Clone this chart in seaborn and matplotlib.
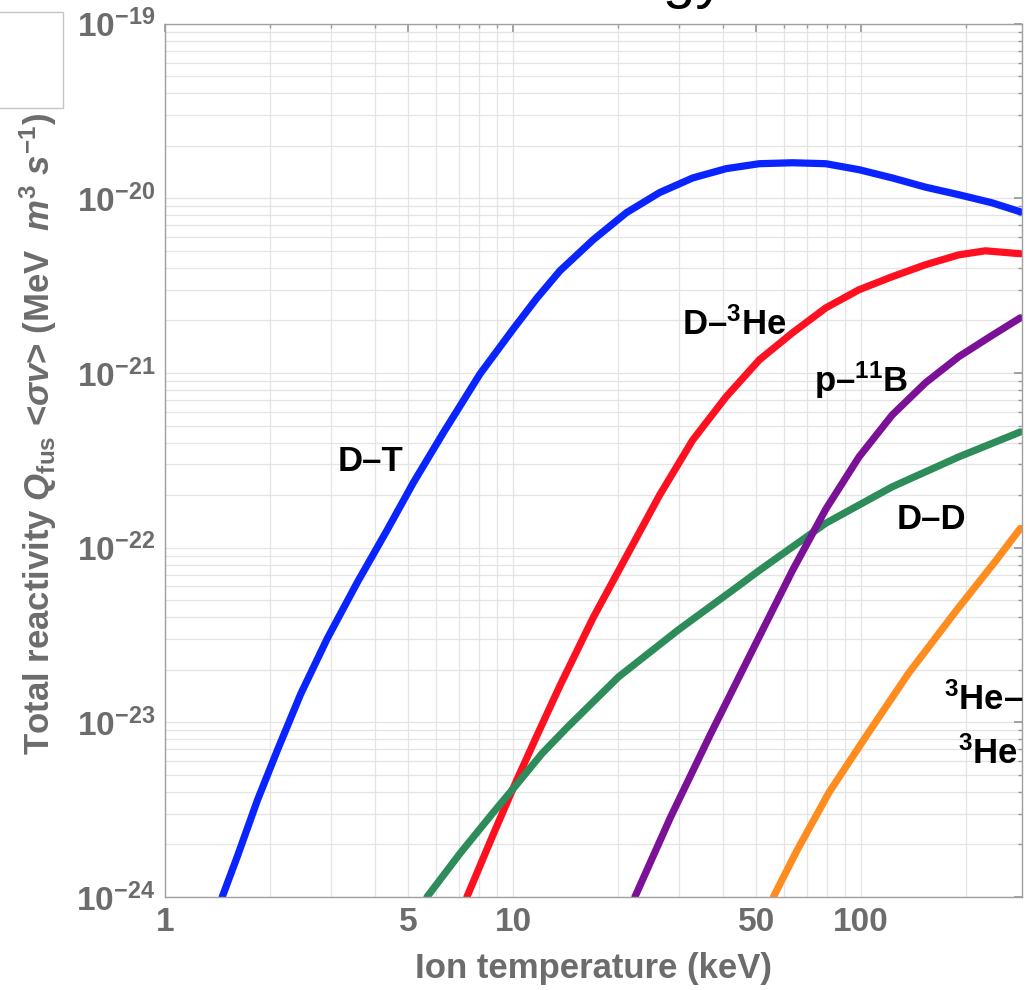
import numpy as np
import pandas as pd
import matplotlib
matplotlib.use("Agg")
import matplotlib.pyplot as plt
import matplotlib.ticker as mticker
from matplotlib.patches import Rectangle
import seaborn as sns

# values (T in keV, reactivity in MeV m^3 s^-1)
dt_T = [1.46, 1.616, 1.844, 2.103, 2.453, 2.926, 3.566, 4.346, 5.180, 6.314, 8.04, 10.02, 11.7, 13.64, 16.99,
        21.17, 26.38, 32.86, 40.96, 51.03, 63.56, 79.2, 98.7, 122.9, 153.2, 190.9, 237.8, 287]
dt_R = [1.0e-24, 1.72e-24, 3.59e-24, 6.92e-24, 1.45e-23, 3.02e-23, 6.31e-23, 1.26e-22, 2.37e-22, 4.57e-22,
        9.89e-22, 1.79e-21, 2.68e-21, 3.85e-21, 5.79e-21, 8.28e-21, 1.08e-20, 1.31e-20, 1.48e-20, 1.58e-20,
        1.60e-20, 1.58e-20, 1.46e-20, 1.31e-20, 1.16e-20, 1.05e-20, 9.44e-21, 8.38e-21]

dhe_T = [7.37, 8.78, 10.1, 11.69, 13.64, 17.0, 21.17, 26.38, 32.86, 40.96, 51.03, 63.56, 79.2, 98.7,
         122.9, 153.2, 190.9, 227.7, 287]
dhe_R = [1.0e-24, 2.29e-24, 4.37e-24, 8.32e-24, 1.62e-23, 3.98e-23, 8.91e-23, 2.00e-22, 4.14e-22, 7.31e-22,
         1.19e-21, 1.70e-21, 2.36e-21, 3.00e-21, 3.56e-21, 4.17e-21, 4.75e-21, 5.01e-21, 4.82e-21]

dd_T = [5.66, 7.05, 8.78, 10.25, 12.1, 14.3, 20.1, 29.9, 44.4, 51.03, 79.2, 122.9, 190.9, 287]
dd_R = [1.0e-24, 1.78e-24, 3.05e-24, 4.41e-24, 6.61e-24, 9.33e-24, 1.82e-23, 3.39e-23, 6.03e-23, 7.41e-23,
        1.38e-22, 2.23e-22, 3.31e-22, 4.60e-22]

pb_T = [22.4, 28.4, 36.9, 48.1, 63.56, 79.2, 98.7, 122.9, 153.2, 190.9, 237.8, 287]
pb_R = [1.0e-24, 2.88e-24, 8.51e-24, 2.45e-23, 7.41e-23, 1.66e-22, 3.31e-22, 5.75e-22, 8.79e-22, 1.24e-21,
        1.64e-21, 2.07e-21]

hehe_T = [56.0, 65.6, 81.0, 105, 137, 188, 245, 287]
hehe_R = [1.0e-24, 1.86e-24, 3.98e-24, 8.71e-24, 1.91e-23, 4.37e-23, 8.51e-23, 1.29e-22]

reactions = ["D-T", "D-3He", "D-D", "p-11B", "3He-3He"]
colors = ["#0a24ff", "#ff1020", "#2e8b5a", "#7a1196", "#ff8c1e"]

x_ticks = [1, 5, 10, 50, 100]
x_ticklabels = ["1", "5", "10", "50", "100"]
y_exps = [-24, -23, -22, -21, -20, -19]

labels = [
    (r"D–T", 3.89, 3.1e-22),
    (r"D–$^{3}$He", 43.3, 1.9e-21),
    (r"p–$^{11}$B", 100, 9.1e-22),
    (r"D–D", 159, 1.45e-22),
    (r"$^{3}$He–", 225, 1.35e-23),
    (r"$^{3}$He", 232, 6.6e-24),
]

frames = []
for name, T, R in zip(reactions, [dt_T, dhe_T, dd_T, pb_T, hehe_T], [dt_R, dhe_R, dd_R, pb_R, hehe_R]):
    frames.append(pd.DataFrame({"T": T, "R": R, "reaction": name}))
df = pd.concat(frames, ignore_index=True)

sns.set_theme(style="white")
plt.rcParams["font.family"] = ["Liberation Sans", "DejaVu Sans"]
plt.rcParams["mathtext.fontset"] = "custom"
plt.rcParams["mathtext.default"] = "regular"
plt.rcParams["mathtext.rm"] = "Liberation Sans:bold"
plt.rcParams["mathtext.it"] = "Liberation Sans:italic:bold"
plt.rcParams["mathtext.bf"] = "Liberation Sans:bold"

gray = "#6c6c6c"
fig = plt.figure(figsize=(10.25, 9.9), dpi=100)
ax = fig.add_axes([0.161, 0.094, 0.836, 0.882])

sns.lineplot(data=df, x="T", y="R", hue="reaction", palette=dict(zip(reactions, colors)),
             linewidth=5.2, legend=False, ax=ax, solid_capstyle="round", solid_joinstyle="round")

ax.set_xscale("log")
ax.set_yscale("log")
ax.set_xlim(1, 290)
ax.set_ylim(1e-24, 1e-19)

ax.set_xticks(x_ticks)
ax.set_xticklabels(x_ticklabels)
ax.xaxis.set_minor_locator(mticker.LogLocator(base=10, subs=np.arange(2, 10), numticks=20))
ax.xaxis.set_minor_formatter(mticker.NullFormatter())
ax.set_yticks([10.0 ** e for e in y_exps])
ax.set_yticklabels([r"10$^{%d}$" % e for e in y_exps])
ax.yaxis.set_minor_locator(mticker.LogLocator(base=10, subs=np.arange(2, 10), numticks=20))
ax.yaxis.set_minor_formatter(mticker.NullFormatter())

ax.grid(which="both", color="#e4e4e4", linewidth=0.9)
ax.tick_params(which="both", direction="in", top=True, right=True, color="#999999")
ax.tick_params(which="major", length=6, labelsize=24, labelcolor=gray, pad=7)
ax.tick_params(which="minor", length=3)
for lab in ax.get_xticklabels() + ax.get_yticklabels():
    lab.set_fontweight("bold")
for sp in ax.spines.values():
    sp.set_color("#a0a0a0")
    sp.set_linewidth(1.0)

ax.set_xlabel("Ion temperature (keV)", fontsize=25, fontweight="bold", color=gray, labelpad=10)
ax.set_ylabel(r"Total reactivity $\mathit{Q}_{fus}$ <$\mathit{\sigma v}$> (MeV  $\mathit{m}^{3}$ $\mathit{s}^{-1}$)",
              fontsize=25, fontweight="bold", color=gray)
ax.yaxis.set_label_coords(-0.124, 0.53)

for txt, tx, ty in labels:
    ax.text(tx, ty, txt, fontsize=25, fontweight="bold", color="black", ha="center", va="center")

# leftovers of the surrounding page, cropped at the edges
fig.patches.append(Rectangle((-0.01, 0.891), 0.071, 0.097, transform=fig.transFigure,
                             facecolor="white", edgecolor="#c4c4c4", linewidth=1.0))
fig.text(0.707, 1.003, "energy", fontsize=42, color="black", ha="right", va="baseline")

fig.savefig("out.png", dpi=100)
